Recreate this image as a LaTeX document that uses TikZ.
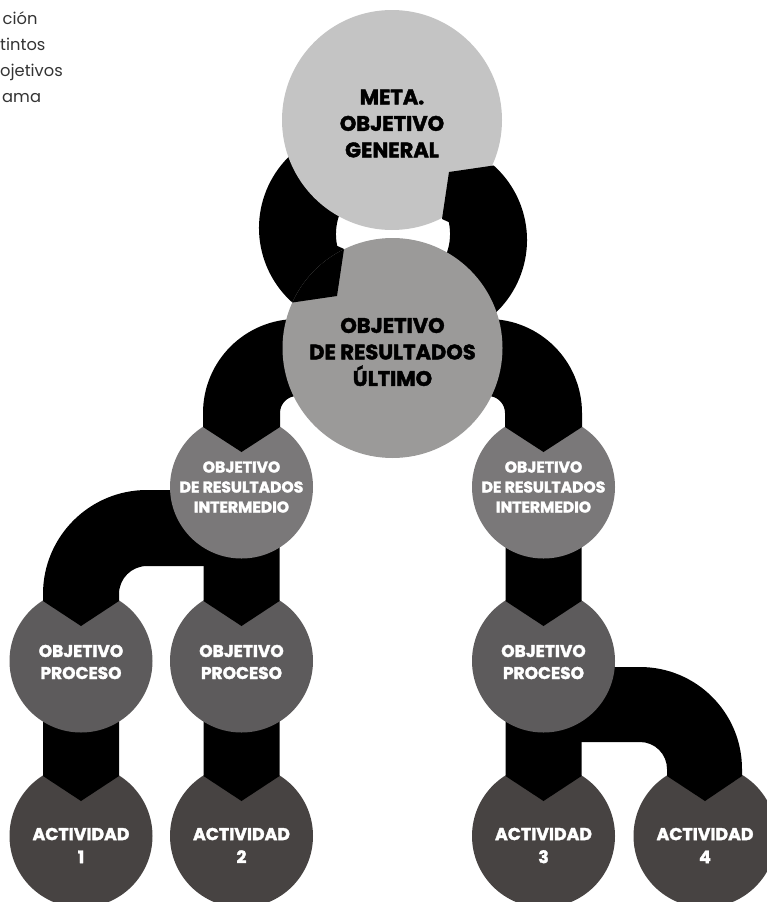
\documentclass[tikz,border=0pt]{standalone}
\usepackage{fontspec}
\setmainfont{Poppins}[BoldFeatures={FakeBold=2}]
\usetikzlibrary{calc}
\definecolor{cM}{HTML}{C4C4C4}
\definecolor{cU}{HTML}{9B9A99}
\definecolor{cI}{HTML}{7A7879}
\definecolor{cP}{HTML}{5D5B5C}
\definecolor{cA}{HTML}{474342}
\definecolor{cTxt}{HTML}{333333}
\newcommand\mkbar[2]{\fill[conn] ($(#1)+(-38,0)$) -- ($(#2)+(-38,-60)$) -- ($(#2)+(0,-35)$) -- ($(#2)+(38,-60)$) -- ($(#1)+(38,0)$) -- cycle;}
\begin{document}
\begin{tikzpicture}[x=1pt,y=-1pt,
  bubble/.style={circle,inner sep=0pt,draw=none},
  bigb/.style={bubble,minimum size=220pt},
  smallb/.style={bubble,minimum size=143pt},
  conn/.style={fill=black},
  darklbl/.style={align=center,inner sep=0pt,text=black,font=\bfseries\fontsize{21}{26.5}\selectfont},
  intlbl/.style={align=center,inner sep=0pt,text=white,font=\bfseries\fontsize{15.6}{20}\selectfont},
  prolbl/.style={align=center,inner sep=0pt,text=white,font=\bfseries\fontsize{17}{22}\selectfont},
  actlbl/.style={align=center,inner sep=0pt,text=white,font=\bfseries\fontsize{17.3}{23}\selectfont},
  notelbl/.style={anchor=base west,inner sep=0pt,text=cTxt,font=\fontsize{16.3}{20}\selectfont}
]
\useasboundingbox (0,0) rectangle (767,902);
\clip (0,0) rectangle (767,902);

% centres
\coordinate (m) at (392,120);
\coordinate (u) at (392.5,348);
\coordinate (i1) at (241.5,487);
\coordinate (i2) at (543.5,487);
\coordinate (p1) at (81,661);
\coordinate (p2) at (241.5,661);
\coordinate (p3) at (543.5,661);
\coordinate (a1) at (81,836);
\coordinate (a2) at (241.5,836);
\coordinate (a3) at (543.5,836);
\coordinate (a4) at (705,836);

% activities
\node[smallb,fill=cA] (A1) at (a1) {};
\node[smallb,fill=cA] (A2) at (a2) {};
\node[smallb,fill=cA] (A3) at (a3) {};
\node[smallb,fill=cA] (A4) at (a4) {};

% connectors into activities
\mkbar{p1}{a1}
\mkbar{p2}{a2}
\mkbar{p3}{a3}
\fill[conn] ($(p3)+(0,6)$) -- ($(a4)+(-65,-169)$) arc[start angle=270,end angle=360,radius=102]
  -- ($(a4)+(37,-60)$) -- ($(a4)+(0,-35)$) -- ($(a4)+(-38,-60)$) -- ($(a4)+(-38,-67)$)
  arc[start angle=0,end angle=-90,radius=27] -- ($(p3)+(0,81)$) -- cycle;

% process objectives
\node[smallb,fill=cP] (P1) at (p1) {};
\node[smallb,fill=cP] (P2) at (p2) {};
\node[smallb,fill=cP] (P3) at (p3) {};

% connectors into process objectives
\mkbar{i1}{p2}
\mkbar{i2}{p3}
\fill[conn] ($(i1)+(0,3)$) -- ($(p1)+(66,-171)$) arc[start angle=270,end angle=180,radius=104]
  -- ($(p1)+(-38,-60)$) -- ($(p1)+(0,-35)$) -- ($(p1)+(38,-60)$) -- ($(p1)+(38,-67)$)
  arc[start angle=180,end angle=270,radius=28] -- ($(i1)+(0,79)$) -- cycle;

% intermediate objectives
\node[smallb,fill=cI] (I1) at (i1) {};
\node[smallb,fill=cI] (I2) at (i2) {};

% connectors from the ultimate objective
\fill[conn] ($(u)+(-50,-29)$) -- ($(i1)+(55.5,-168)$) arc[start angle=270,end angle=180,radius=94]
  -- ($(i1)+(-38.5,-60)$) -- ($(i1)+(0,-35)$) -- ($(i1)+(38.5,-60)$) -- ($(i1)+(38.5,-74)$)
  arc[start angle=180,end angle=270,radius=17] -- ($(u)+(-50,48)$) -- cycle;
\fill[conn] ($(u)+(50,-29)$) -- ($(i2)+(-55.5,-168)$) arc[start angle=270,end angle=360,radius=94]
  -- ($(i2)+(38.5,-60)$) -- ($(i2)+(0,-35)$) -- ($(i2)+(-38.5,-60)$) -- ($(i2)+(-38.5,-74)$)
  arc[start angle=0,end angle=-90,radius=17] -- ($(u)+(50,48)$) -- cycle;

% cycle between goal and ultimate objective
\fill[conn] (324.8,134) arc[start angle=250,end angle=131.8,radius=100]
  -- (337,296) -- (344,249) -- (337.2,245.9) arc[start angle=168,end angle=230,radius=57] -- cycle;
\node[bigb,fill=cM] (M) at (m) {};
\fill[conn] (461.2,334) arc[start angle=70,end angle=-48.2,radius=100]
  -- (449,172) -- (442,219) -- (448.8,222.1) arc[start angle=-12,end angle=50,radius=57] -- cycle;
\node[bigb,fill=cU] (U) at (u) {};
\begin{scope}
  \clip (u) circle[radius=110];
  \fill[conn] (324.8,134) arc[start angle=250,end angle=131.8,radius=100]
    -- (337,296) -- (344,249) -- (337.2,245.9) arc[start angle=168,end angle=230,radius=57] -- cycle;
\end{scope}

% labels
\node[darklbl] (tM) at ($(m)+(0,3.5)$) {META.\\OBJETIVO\\GENERAL};
\node[darklbl] (tU) at ($(u)+(0,4)$) {OBJETIVO\\DE RESULTADOS\\ÚLTIMO};
\node[intlbl] (tI1) at (i1) {OBJETIVO\\DE RESULTADOS\\INTERMEDIO};
\node[intlbl] (tI2) at (i2) {OBJETIVO\\DE RESULTADOS\\INTERMEDIO};
\node[prolbl] (tP1) at ($(p1)+(0,1)$) {OBJETIVO\\PROCESO};
\node[prolbl] (tP2) at ($(p2)+(0,1)$) {OBJETIVO\\PROCESO};
\node[prolbl] (tP3) at ($(p3)+(0,1)$) {OBJETIVO\\PROCESO};
\node[actlbl] (tA1) at ($(a1)+(0,9.5)$) {ACTIVIDAD\\1};
\node[actlbl] (tA2) at ($(a2)+(0,9.5)$) {ACTIVIDAD\\2};
\node[actlbl] (tA3) at ($(a3)+(0,9.5)$) {ACTIVIDAD\\3};
\node[actlbl] (tA4) at ($(a4)+(0,9.5)$) {ACTIVIDAD\\4};

% note fragment at the top left
\node[notelbl] (n1) at (2.5,24) {ción};
\node[notelbl] (n2) at (0,50) {tintos};
\node[notelbl] (n3) at (0,76) {ojetivos};
\node[notelbl] (n4) at (2,102) {ama};
\end{tikzpicture}
\end{document}
